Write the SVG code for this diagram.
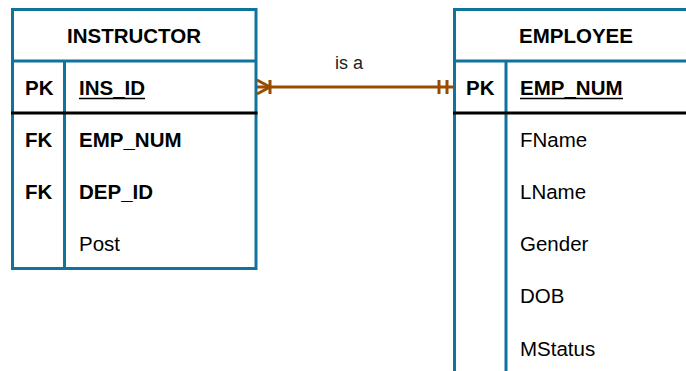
<svg xmlns="http://www.w3.org/2000/svg" width="686" height="371" viewBox="0 0 686 371">
<style>
.box{fill:#fff;stroke:#10739E;stroke-width:3}
.ln{stroke:#10739E;stroke-width:3}
.bk{stroke:#000;stroke-width:3}
text{font-family:"Liberation Sans",Arial,sans-serif;font-size:20.5px;fill:#000}
.b{font-weight:bold}
.t{font-weight:bold;text-anchor:middle}
.ul{stroke:#000;stroke-width:1.6}
.c{stroke:#994C00;stroke-width:3;fill:none}
.lbl{font-size:18px;text-anchor:middle;fill:#222}
</style>
<rect width="686" height="371" fill="#fff"/>
<g id="instructor">
<rect class="box" x="12.5" y="9.5" width="243.5" height="259"/>
<line class="ln" x1="12.5" y1="61" x2="256" y2="61"/>
<line class="ln" x1="64.5" y1="61" x2="64.5" y2="268.5"/>
<line class="bk" x1="11" y1="113" x2="257.5" y2="113"/>
<text class="t" x="134" y="43">INSTRUCTOR</text>
<text class="b" x="25" y="95">PK</text>
<text class="b" x="79" y="95">INS_ID</text>
<line class="ul" x1="79" y1="98.5" x2="145" y2="98.5"/>
<text class="b" x="25" y="147">FK</text>
<text class="b" x="79" y="147">EMP_NUM</text>
<text class="b" x="25" y="199">FK</text>
<text class="b" x="79" y="199">DEP_ID</text>
<text x="79" y="251">Post</text>
</g>
<g id="employee">
<rect class="box" x="454.5" y="9.5" width="244" height="380"/>
<line class="ln" x1="454.5" y1="61" x2="698" y2="61"/>
<line class="ln" x1="506" y1="61" x2="506" y2="390"/>
<line class="bk" x1="453" y1="113" x2="698" y2="113"/>
<text class="t" x="576" y="43">EMPLOYEE</text>
<text class="b" x="466" y="95">PK</text>
<text class="b" x="520" y="95">EMP_NUM</text>
<line class="ul" x1="520" y1="98.5" x2="623" y2="98.5"/>
<text x="520" y="147">FName</text>
<text x="520" y="199">LName</text>
<text x="520" y="251">Gender</text>
<text x="520" y="303">DOB</text>
<text x="520" y="356">MStatus</text>
</g>
<g id="connectors">
<line class="c" x1="257" y1="87" x2="453" y2="87"/>
<polyline class="c" points="257,80 270,87 257,94"/>
<line class="c" x1="270" y1="80" x2="270" y2="94"/>
<line class="c" x1="439" y1="80" x2="439" y2="94"/>
<line class="c" x1="447" y1="80" x2="447" y2="94"/>
<text class="lbl" x="349" y="69">is a</text>
</g>
</svg>
